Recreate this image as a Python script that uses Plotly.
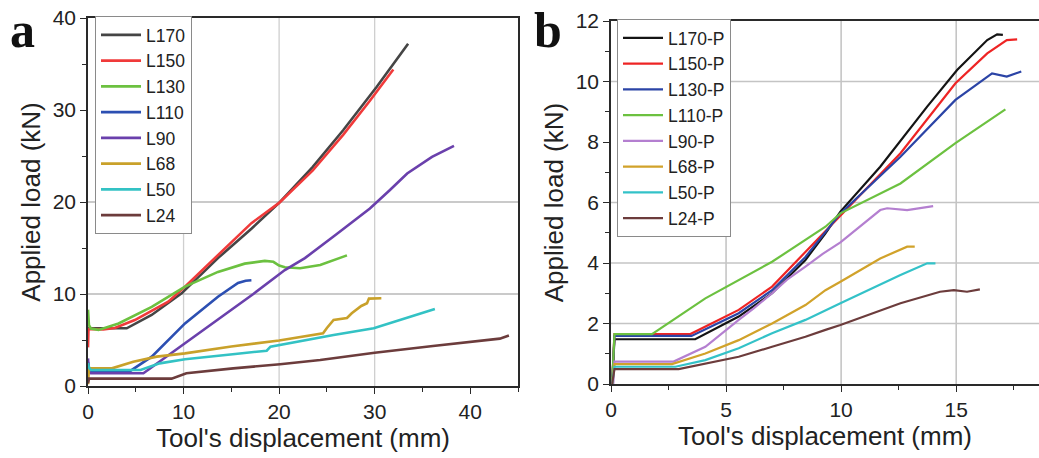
import plotly.graph_objects as go

# ---- panel a: unreinforced specimens (displacement mm, load kN) ----
L170_x = [0.0, 0.2, 4.05, 6.66, 9.8, 13.6, 17.1, 20.0, 23.5, 26.7, 30.2, 33.5]
L170_y = [6.3, 6.27, 6.27, 7.72, 10.07, 13.9, 17.1, 19.9, 23.8, 27.8, 32.5, 37.2]

L150_x = [0.0, 0.05, 1.6, 2.8, 4.9, 8.4, 10.15, 13.6, 17.1, 20.0, 23.5, 26.7, 29.5, 31.95]
L150_y = [4.2, 6.2, 6.15, 6.3, 7.17, 9.16, 10.8, 14.2, 17.7, 19.9, 23.4, 27.3, 31.0, 34.4]

L130_x = [0.0, 0.1, 0.3, 1.1, 3.2, 6.67, 10.15, 13.6, 16.4, 18.5, 19.4, 20.0, 20.6, 21.7, 22.2, 24.3, 27.1]
L130_y = [8.3, 6.6, 6.25, 6.1, 6.8, 8.6, 10.8, 12.4, 13.3, 13.6, 13.5, 13.1, 12.9, 12.8, 12.8, 13.15, 14.2]

L110_x = [0.0, 0.1, 0.3, 4.2, 6.67, 10.15, 13.6, 15.7, 16.5, 17.1]
L110_y = [2.6, 1.8, 1.48, 1.48, 3.19, 6.8, 9.7, 11.2, 11.45, 11.5]

L90_x = [0.0, 0.1, 0.3, 5.8, 10.15, 15.4, 17.3, 20.6, 22.7, 26.0, 29.5, 31.6, 33.4, 36.0, 38.3]
L90_y = [3.0, 1.6, 1.38, 1.38, 4.64, 8.6, 10.0, 12.6, 13.9, 16.5, 19.3, 21.3, 23.1, 24.9, 26.1]

L68_x = [0.0, 0.1, 0.3, 2.5, 4.74, 7.2, 10.15, 15.0, 20.0, 22.7, 24.6, 25.0, 25.7, 27.1, 27.6, 28.6, 29.2, 29.4, 30.7]
L68_y = [0.2, 2.0, 1.92, 1.92, 2.64, 3.19, 3.55, 4.3, 4.95, 5.36, 5.72, 6.3, 7.17, 7.4, 7.9, 8.7, 9.0, 9.5, 9.53]

L50_x = [0.0, 0.1, 0.3, 5.5, 7.5, 10.15, 15.4, 18.7, 19.1, 22.7, 25.7, 29.9, 32.6, 36.3]
L50_y = [2.5, 2.0, 1.74, 1.74, 2.46, 2.9, 3.48, 3.84, 4.27, 5.0, 5.54, 6.27, 7.17, 8.37]

L24_x = [0.0, 0.1, 8.75, 10.3, 15.2, 20.1, 24.3, 30.0, 36.1, 41.4, 43.1, 44.05]
L24_y = [0.3, 0.8, 0.8, 1.38, 1.92, 2.36, 2.83, 3.62, 4.35, 5.0, 5.15, 5.5]

# ---- panel b: reinforced specimens ----
L170P_x = [0.05, 0.15, 3.66, 5.55, 7.0, 8.45, 9.32, 9.97, 11.7, 13.74, 15.04, 16.35, 16.78, 17.03]
L170P_y = [0.0, 1.48, 1.48, 2.23, 3.0, 4.1, 4.98, 5.7, 7.18, 9.17, 10.38, 11.37, 11.56, 11.54]

L150P_x = [0.05, 0.15, 3.45, 5.55, 7.0, 8.45, 9.97, 12.58, 14.97, 16.35, 17.2, 17.65]
L150P_y = [0.0, 1.65, 1.65, 2.45, 3.22, 4.37, 5.55, 7.63, 9.94, 10.93, 11.37, 11.39]

L130P_x = [0.05, 0.15, 3.5, 5.55, 7.0, 8.45, 9.97, 12.58, 14.97, 16.06, 16.56, 17.2, 17.83]
L130P_y = [0.0, 1.59, 1.59, 2.34, 3.1, 4.2, 5.64, 7.51, 9.39, 9.99, 10.27, 10.16, 10.33]

L110P_x = [0.05, 0.15, 1.78, 4.1, 7.0, 9.32, 9.97, 12.58, 14.97, 17.14]
L110P_y = [0.0, 1.65, 1.65, 2.83, 4.04, 5.2, 5.64, 6.63, 7.96, 9.08]

L90P_x = [0.1, 0.15, 2.72, 4.1, 5.55, 6.2, 7.0, 7.65, 8.45, 9.2, 9.97, 11.0, 11.7, 12.0, 12.87, 14.0]
L90P_y = [0.0, 0.74, 0.74, 1.23, 2.12, 2.5, 3.0, 3.45, 3.88, 4.3, 4.68, 5.3, 5.75, 5.81, 5.75, 5.88]

L68P_x = [0.05, 0.15, 2.65, 4.1, 5.55, 7.0, 8.45, 9.32, 9.97, 11.7, 12.87, 13.2]
L68P_y = [0.0, 0.66, 0.66, 1.01, 1.45, 2.0, 2.61, 3.1, 3.38, 4.15, 4.54, 4.54]

L50P_x = [0.05, 0.15, 2.8, 4.1, 5.55, 7.0, 8.45, 9.32, 9.97, 12.58, 13.74, 14.1]
L50P_y = [0.0, 0.57, 0.57, 0.79, 1.18, 1.68, 2.12, 2.45, 2.67, 3.6, 3.99, 3.99]

L24P_x = [0.05, 0.15, 2.94, 4.1, 5.55, 7.0, 8.45, 9.32, 9.97, 12.58, 14.3, 14.9, 15.47, 16.03]
L24P_y = [0.0, 0.49, 0.49, 0.68, 0.9, 1.23, 1.56, 1.79, 1.95, 2.67, 3.05, 3.1, 3.05, 3.13]

series_a = [
    ("L170", L170_x, L170_y, "#454545"),
    ("L150", L150_x, L150_y, "#f03a3a"),
    ("L130", L130_x, L130_y, "#6cc140"),
    ("L110", L110_x, L110_y, "#2c4fb2"),
    ("L90", L90_x, L90_y, "#6a40ac"),
    ("L68", L68_x, L68_y, "#c9a12a"),
    ("L50", L50_x, L50_y, "#33c2c4"),
    ("L24", L24_x, L24_y, "#6c3c3c"),
]
series_b = [
    ("L170-P", L170P_x, L170P_y, "#141414"),
    ("L150-P", L150P_x, L150P_y, "#ee2424"),
    ("L130-P", L130P_x, L130P_y, "#2b44a6"),
    ("L110-P", L110P_x, L110P_y, "#6cc140"),
    ("L90-P", L90P_x, L90P_y, "#b47fd0"),
    ("L68-P", L68P_x, L68P_y, "#d1a22a"),
    ("L50-P", L50P_x, L50P_y, "#33c2c8"),
    ("L24-P", L24P_x, L24P_y, "#6c3c3c"),
]

grid_a_x = [10, 20, 30]
grid_a_y = [10, 20]
grid_b_x = [5, 10, 15]
grid_b_y = [2, 4, 6, 10]

FONT = "Liberation Sans, Arial, sans-serif"
W, H = 1039, 458

fig = go.Figure()
for name, xs, ys, col in series_a:
    fig.add_trace(go.Scatter(x=xs, y=ys, name=name, mode="lines",
                             line=dict(color=col, width=2.6),
                             xaxis="x", yaxis="y", legend="legend"))
for name, xs, ys, col in series_b:
    fig.add_trace(go.Scatter(x=xs, y=ys, name=name, mode="lines",
                             line=dict(color=col, width=2.2),
                             xaxis="x2", yaxis="y2", legend="legend2"))

shapes = []
for v in grid_a_x:
    shapes.append(dict(type="line", xref="x", yref="y domain", x0=v, x1=v, y0=0, y1=1,
                       line=dict(color="#cfcfcf", width=1.3), layer="below"))
for v in grid_a_y:
    shapes.append(dict(type="line", xref="x domain", yref="y", x0=0, x1=1, y0=v, y1=v,
                       line=dict(color="#b8b8b8", width=1.3), layer="below"))
for v in grid_b_x:
    shapes.append(dict(type="line", xref="x2", yref="y2 domain", x0=v, x1=v, y0=0, y1=1,
                       line=dict(color="#b8b8b8", width=1.3), layer="below"))
for v in grid_b_y:
    shapes.append(dict(type="line", xref="x2 domain", yref="y2", x0=0, x1=1, y0=v, y1=v,
                       line=dict(color="#c4c4c4", width=1.3), layer="below"))


def axis_style(**kw):
    base = dict(showgrid=False, zeroline=False, showline=True, linecolor="#2a2a2a",
                linewidth=1.6, mirror=True, ticks="outside", ticklen=6, tickwidth=1.4,
                tickcolor="#2a2a2a", automargin=False,
                tickfont=dict(family=FONT, size=21, color="#222222"),
                minor=dict(ticks="outside", ticklen=4, tickwidth=1.2, tickcolor="#2a2a2a"))
    base.update(kw)
    return base


ttl = dict(family=FONT, size=26, color="#222222")
leg_font = dict(family=FONT, size=17.5, color="#222222")
panel_font = dict(family="Liberation Serif, Times New Roman, serif", size=50, color="#111111")

fig.update_layout(
    width=W, height=H,
    margin=dict(l=0, r=0, t=0, b=0),
    paper_bgcolor="white", plot_bgcolor="white",
    showlegend=True,
    xaxis=axis_style(domain=[88 / W, 518 / W], range=[0, 45], dtick=10, anchor="y",
                     minor_dtick=5,
                     title=dict(text="Tool's displacement (mm)", font=ttl, standoff=4)),
    yaxis=axis_style(domain=[72 / H, 440 / H], range=[0, 40], dtick=10, anchor="x",
                     minor_dtick=5,
                     title=dict(text="Applied load (kN)", font=ttl, standoff=5)),
    xaxis2=axis_style(domain=[611 / W, 1.0], range=[0, 18.6], dtick=5, anchor="y2",
                      minor_dtick=2.5,
                      title=dict(text="Tool's displacement (mm)", font=ttl, standoff=4)),
    yaxis2=axis_style(domain=[74 / H, 437 / H], range=[0, 12], dtick=2, anchor="x2",
                      minor_dtick=1,
                      title=dict(text="Applied load (kN)", font=ttl, standoff=5)),
    legend=dict(x=95 / W, y=1 - 16 / H, xanchor="left", yanchor="top",
                bgcolor="white", bordercolor="#8a8a8a", borderwidth=1,
                font=leg_font, itemwidth=40, tracegroupgap=0),
    legend2=dict(x=617 / W, y=1 - 19 / H, xanchor="left", yanchor="top",
                 bgcolor="white", bordercolor="#8a8a8a", borderwidth=1,
                 font=leg_font, itemwidth=40, tracegroupgap=0),
    shapes=shapes,
    annotations=[
        dict(text="<b>a</b>", x=8 / W, y=1.0, xref="paper", yref="paper",
             xanchor="left", yanchor="top", showarrow=False, font=panel_font),
        dict(text="<b>b</b>", x=532 / W, y=1.0, xref="paper", yref="paper",
             xanchor="left", yanchor="top", showarrow=False, font=panel_font),
    ],
)

fig.write_html("out.html")
